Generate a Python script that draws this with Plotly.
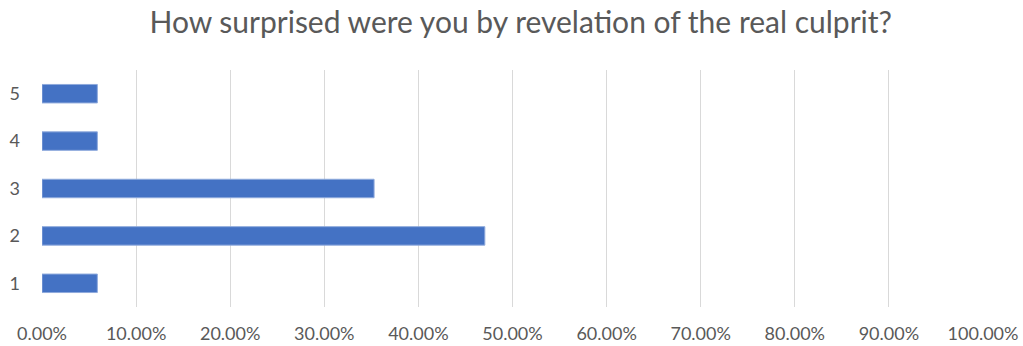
import plotly.graph_objects as go

categories = ["1", "2", "3", "4", "5"]
shares = [0.0588, 0.4706, 0.3529, 0.0588, 0.0588]
x_ticks = [i / 10 for i in range(11)]
title_text = "How surprised were you by revelation of the real culprit?"

fig = go.Figure(go.Bar(
    x=shares, y=categories, orientation="h",
    marker=dict(color="#4472C4", line=dict(color="#8FAADC", width=1)),
))

fig.update_layout(
    width=1023, height=346,
    margin=dict(l=42, r=40, t=70, b=39),
    paper_bgcolor="white", plot_bgcolor="white",
    title=dict(text=title_text, x=0.509, xanchor="center", y=0.935, yanchor="middle",
               font=dict(family="Lato, Open Sans, sans-serif", size=30, color="#595959")),
    bargap=0.61,
    showlegend=False,
    font=dict(family="Lato, Open Sans, sans-serif", size=18, color="#595959"),
)
fig.update_xaxes(range=[0, 1], tickvals=x_ticks, tickformat=".2%",
                 showgrid=True, gridcolor="#D9D9D9", gridwidth=1,
                 zeroline=False, showline=False, ticks="", ticklabelstandoff=14,
                 automargin=False, fixedrange=True)
fig.update_yaxes(type="category", categoryorder="array", categoryarray=categories,
                 showgrid=False, zeroline=False, showline=False, ticks="",
                 ticklabelstandoff=21, automargin=False, fixedrange=True)

fig.write_html("out.html")
